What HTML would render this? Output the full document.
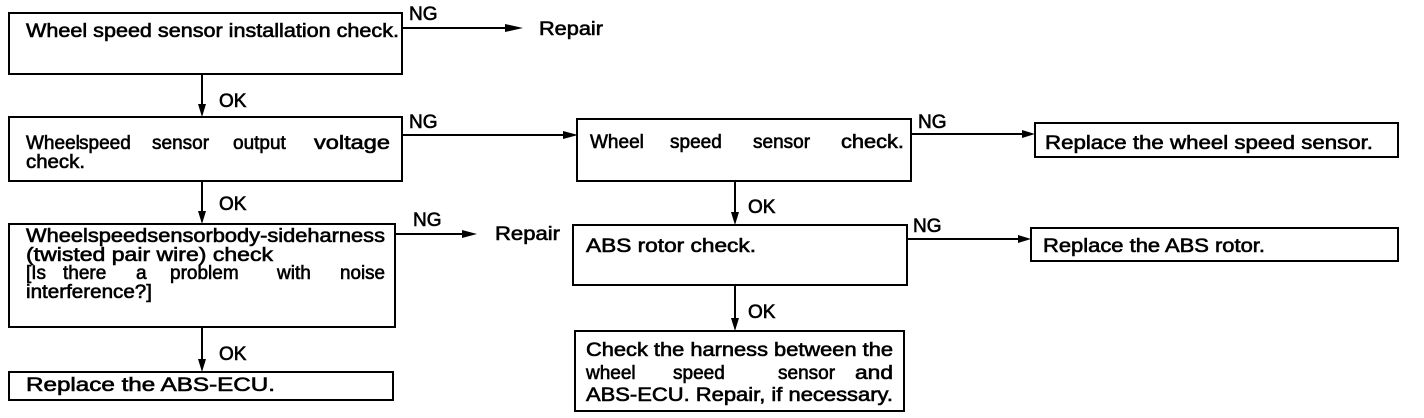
<!DOCTYPE html>
<html><head><meta charset="utf-8"><style>
html,body{margin:0;padding:0;background:#fff;}
svg{display:block}
text{font-family:"Liberation Sans",sans-serif;font-size:19px;fill:#000;stroke:#000;stroke-width:0.6px;}
</style></head><body>
<svg width="1424" height="418" viewBox="0 0 1424 418" xmlns="http://www.w3.org/2000/svg">
<g fill="none" stroke="#000" stroke-width="2">
<rect x="9" y="13" width="393" height="61"/>
<rect x="9" y="117" width="393" height="64"/>
<rect x="9" y="224" width="386" height="103"/>
<rect x="9" y="372" width="384" height="28"/>
<rect x="577" y="119" width="334" height="62"/>
<rect x="1035" y="123" width="363" height="34"/>
<rect x="573" y="225" width="334" height="60"/>
<rect x="1031" y="228" width="367" height="33"/>
<rect x="575" y="331" width="329" height="80"/>
<line x1="402" y1="28" x2="512" y2="28"/>
<line x1="402" y1="135" x2="570" y2="135"/>
<line x1="395" y1="234" x2="466" y2="234"/>
<line x1="911" y1="134" x2="1028" y2="134"/>
<line x1="907" y1="239" x2="1024" y2="239"/>
<line x1="202" y1="74" x2="202" y2="108"/>
<line x1="202" y1="181" x2="202" y2="215"/>
<line x1="202" y1="327" x2="202" y2="363"/>
<line x1="735" y1="181" x2="735" y2="216"/>
<line x1="735" y1="285" x2="735" y2="322"/>
</g>
<g fill="#000">
<polygon points="505,24 523,28 505,32"/>
<polygon points="563,131 578,135 563,139"/>
<polygon points="462,230 477,234 462,238"/>
<polygon points="1022,130 1035,134 1022,138"/>
<polygon points="1018,235 1031,239 1018,243"/>
<polygon points="198,104 202,117 206,104"/>
<polygon points="198,211 202,224 206,211"/>
<polygon points="198,359 202,372 206,359"/>
<polygon points="731,212 735,225 739,212"/>
<polygon points="731,318 735,331 739,318"/>
</g>
<text x="26" y="37" textLength="373" lengthAdjust="spacingAndGlyphs">Wheel speed sensor installation check.</text>
<text x="26" y="149">Wheel</text><text x="79" y="149">speed</text><text x="152" y="149">sensor</text><text x="233" y="149">output</text><text x="314" y="149" textLength="76" lengthAdjust="spacingAndGlyphs">voltage</text>
<text x="26" y="168" textLength="59" lengthAdjust="spacingAndGlyphs">check.</text>
<text x="26" y="242" textLength="359" lengthAdjust="spacingAndGlyphs">Wheelspeedsensorbody-sideharness</text>
<text x="26" y="261" textLength="247" lengthAdjust="spacingAndGlyphs">(twisted pair wire) check</text>
<text x="26" y="279">[Is</text><text x="63" y="279">there</text><text x="136" y="279">a</text><text x="170" y="279">problem</text><text x="277" y="279">with</text><text x="340" y="279" textLength="45" lengthAdjust="spacingAndGlyphs">noise</text>
<text x="26" y="298" textLength="126" lengthAdjust="spacingAndGlyphs">interference?]</text>
<text x="26" y="391" textLength="249" lengthAdjust="spacingAndGlyphs">Replace the ABS-ECU.</text>
<text x="409" y="20">NG</text>
<text x="409" y="128">NG</text>
<text x="413" y="226">NG</text>
<text x="918" y="128">NG</text>
<text x="913" y="232">NG</text>
<text x="539" y="35" textLength="64" lengthAdjust="spacingAndGlyphs">Repair</text>
<text x="495" y="240" textLength="65" lengthAdjust="spacingAndGlyphs">Repair</text>
<text x="219" y="107">OK</text>
<text x="219" y="210">OK</text>
<text x="219" y="360">OK</text>
<text x="748" y="213">OK</text>
<text x="748" y="318">OK</text>
<text x="590" y="148">Wheel</text><text x="670" y="148">speed</text><text x="753" y="148">sensor</text><text x="841" y="148" textLength="63" lengthAdjust="spacingAndGlyphs">check.</text>
<text x="1045" y="149" textLength="328" lengthAdjust="spacingAndGlyphs">Replace the wheel speed sensor.</text>
<text x="586" y="252" textLength="170" lengthAdjust="spacingAndGlyphs">ABS rotor check.</text>
<text x="1043" y="252" textLength="222" lengthAdjust="spacingAndGlyphs">Replace the ABS rotor.</text>
<text x="586" y="356" textLength="307" lengthAdjust="spacingAndGlyphs">Check the harness between the</text>
<text x="586" y="379">wheel</text><text x="673" y="379">speed</text><text x="778" y="379">sensor</text><text x="855" y="379" textLength="38" lengthAdjust="spacingAndGlyphs">and</text>
<text x="586" y="401" textLength="307" lengthAdjust="spacingAndGlyphs">ABS-ECU. Repair, if necessary.</text>
</svg>
</body></html>
